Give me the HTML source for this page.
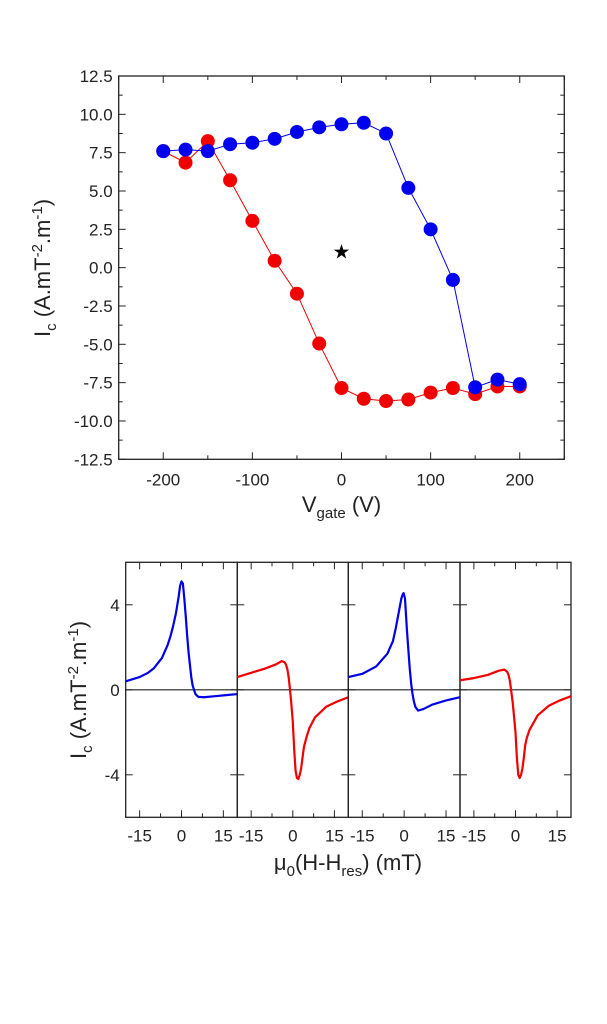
<!DOCTYPE html>
<html><head><meta charset="utf-8"><style>
html,body{margin:0;padding:0;background:#fff;}
svg{display:block;font-family:"Liberation Sans",Arial,sans-serif;}
</style></head><body>
<svg id="fig" width="607" height="1024" viewBox="0 0 607 1024" xmlns="http://www.w3.org/2000/svg">
<g id="topChart"></g>
<g id="botChart"></g>
</svg>
<script>
const NS='http://www.w3.org/2000/svg';
const vgate=[-200,-175,-150,-125,-100,-75,-50,-25,0,25,50,75,100,125,150,175,200];
const blueIc=[7.6,7.7,7.6,8.05,8.15,8.4,8.85,9.15,9.35,9.45,8.75,5.2,2.5,-0.8,-7.8,-7.3,-7.6];
const redIc=[7.6,6.85,8.25,5.7,3.05,0.45,-1.7,-4.95,-7.85,-8.55,-8.7,-8.6,-8.15,-7.85,-8.25,-7.75,-7.75];
const starPoint=[0,1.05];
const topXTicks=[-200,-100,0,100,200];
const topYTicks=[-12.5,-10,-7.5,-5,-2.5,0,2.5,5,7.5,10,12.5];

const p1x=[-20,-15,-12,-10,-7,-5,-4,-3,-2,-1,-0.5,0,0.5,1,1.5,2,2.5,3,3.5,4,4.5,5,6,8,12,16,20];
const p1y=[0.4,0.6,0.8,1.0,1.5,2.1,2.5,3.0,3.6,4.4,4.9,5.1,5.0,4.3,3.5,2.6,1.8,1.2,0.6,0.2,0.0,-0.2,-0.33,-0.35,-0.3,-0.25,-0.2];
const p2x=[-20,-15,-10,-6,-4,-3,-2.5,-2,-1.5,-1,-0.5,0,0.5,1,1.5,2,2.5,3,3.5,4,5,6,8,12,16,20];
const p2y=[0.6,0.8,1.0,1.2,1.35,1.3,1.2,1.0,0.6,0,-0.7,-1.5,-2.8,-3.8,-4.15,-4.2,-4.0,-3.7,-3.2,-2.7,-2.2,-1.8,-1.3,-0.8,-0.55,-0.35];
const p3x=[-20,-15,-10,-6,-4,-3,-2,-1,-0.5,-0.2,0.3,1,1.5,2,2.5,3,3.5,4,5,7,10,15,20];
const p3y=[0.6,0.75,1.1,1.7,2.3,2.9,3.6,4.3,4.5,4.55,4.3,2.8,1.9,1.0,0.3,-0.2,-0.55,-0.8,-0.98,-0.9,-0.7,-0.5,-0.35];
const p4x=[-20,-15,-10,-6,-4,-3,-2.5,-2,-1.5,-1,-0.5,0,0.5,1,1.5,2,2.5,3,3.5,4,5,8,12,16,20];
const p4y=[0.45,0.55,0.7,0.9,0.95,0.85,0.7,0.4,-0.1,-0.6,-1.3,-2.0,-3.2,-4.0,-4.15,-4.0,-3.7,-3.2,-2.6,-2.3,-1.9,-1.2,-0.75,-0.5,-0.3];
const botXTicks=[-15,0,15];
const botYTicks=[-4,0,4];

function mk(tag,attrs,parent,text){const e=document.createElementNS(NS,tag);for(const k in attrs)e.setAttribute(k,attrs[k]);if(text!==undefined)e.textContent=text;parent.appendChild(e);return e;}

// top chart
const topG=document.getElementById('topChart');
const L=118.7,R=564.3,T=76,B=459.3;
const sx=v=>L+(v+250)/500*(R-L);
const sy=v=>B-(v+12.5)/25*(B-T);
let f=mk('rect',{x:L,y:T,width:R-L,height:B-T,fill:'none',stroke:'#222','stroke-width':1.3},topG);


for(let v=-250;v<=250;v+=50){const major=topXTicks.includes(v);const len=major?7:4;
 mk('line',{x1:sx(v),x2:sx(v),y1:B,y2:B-len,stroke:'#222'},topG);mk('line',{x1:sx(v),x2:sx(v),y1:T,y2:T+len,stroke:'#222'},topG);}
topXTicks.forEach(v=>{const t=mk('text',{x:sx(v),y:B+26,'text-anchor':'middle','font-size':17,fill:'#222'},topG,String(v));
 
 });
for(let i=0;i<=20;i++){const v=-12.5+i*1.25;const major=i%2===0;const len=major?7:4;
 mk('line',{x1:L,x2:L+len,y1:sy(v),y2:sy(v),stroke:'#222'},topG);mk('line',{x1:R,x2:R-len,y1:sy(v),y2:sy(v),stroke:'#222'},topG);}
topYTicks.forEach(v=>{const t=mk('text',{x:L-6,y:sy(v)+6,'text-anchor':'end','font-size':17,fill:'#222'},topG,v.toFixed(1));
 
 });
function series(ys,color,name){
 const pts=vgate.map((x,i)=>sx(x)+','+sy(ys[i])).join(' ');
 const pl=mk('polyline',{points:pts,fill:'none',stroke:color,'stroke-width':1},topG);
 
 
 vgate.forEach((x,i)=>{const c=mk('circle',{cx:sx(x),cy:sy(ys[i]),r:7,fill:color},topG);
  
  });
}
series(redIc,'#f00000','red-series');
series(blueIc,'#0000f0','blue-series');
const st=mk('text',{x:sx(starPoint[0]),y:sy(starPoint[1])+7,'text-anchor':'middle','font-size':20,fill:'#000'},topG,'★');


let xl=mk('text',{x:(L+R)/2,y:512,'text-anchor':'middle','font-size':22,fill:'#222'},topG);


xl.innerHTML='V<tspan font-size="15" dy="6">gate</tspan><tspan dy="-6"> (V)</tspan>';
let yl=mk('text',{x:0,y:0,'text-anchor':'middle','font-size':22,fill:'#222',transform:'translate(50,268) rotate(-90)'},topG);


yl.innerHTML='I<tspan font-size="15" dy="6">c</tspan><tspan dy="-6"> (A.mT</tspan><tspan font-size="15" dy="-8">-2</tspan><tspan dy="8">.m</tspan><tspan font-size="15" dy="-8">-1</tspan><tspan dy="8">)</tspan>';

// bottom chart
const botG=document.getElementById('botChart');
const BT=562.3,BB=817.3,edges=[125.7,237.3,348.3,460,571];
const by=v=>BB-(v+6)/12*(BB-BT);
const panels=[[p1x,p1y,'#0000e6'],[p2x,p2y,'#f00000'],[p3x,p3y,'#0000e6'],[p4x,p4y,'#f00000']];
panels.forEach((p,k)=>{
 const l=edges[k],r=edges[k+1];const bx=v=>l+(v+20)/40*(r-l);
 const g=mk('g',{},botG);
 
 
 mk('rect',{x:l,y:BT,width:r-l,height:BB-BT,fill:'none',stroke:'#222','stroke-width':1.3},g);
 mk('line',{x1:l,x2:r,y1:by(0),y2:by(0),stroke:'#222','stroke-width':1.2},g);
 for(let v=-15;v<=15;v+=7.5){const len=botXTicks.includes(v)?7:4;
  mk('line',{x1:bx(v),x2:bx(v),y1:BB,y2:BB-len,stroke:'#222'},g);mk('line',{x1:bx(v),x2:bx(v),y1:BT,y2:BT+len,stroke:'#222'},g);}
 botYTicks.forEach(v=>{mk('line',{x1:l,x2:l+7,y1:by(v),y2:by(v),stroke:'#222'},g);mk('line',{x1:r,x2:r-7,y1:by(v),y2:by(v),stroke:'#222'},g);});
 botXTicks.forEach(v=>{const t=mk('text',{x:bx(v),y:BB+24,'text-anchor':'middle','font-size':17,fill:'#222'},g,String(v));
  
  });
 const pts=p[0].map((x,i)=>bx(x)+','+by(p[1][i])).join(' ');
 const pl=mk('polyline',{points:pts,fill:'none',stroke:p[2],'stroke-width':2.2,'stroke-linejoin':'round'},g);
 
 
});
botYTicks.forEach(v=>{const t=mk('text',{x:edges[0]-6,y:by(v)+6,'text-anchor':'end','font-size':17,fill:'#222'},botG,String(v));
 
 });
let bxl=mk('text',{x:348,y:870,'text-anchor':'middle','font-size':22,fill:'#222'},botG);


bxl.innerHTML='μ<tspan font-size="15" dy="6">0</tspan><tspan dy="-6">(H-H</tspan><tspan font-size="15" dy="6">res</tspan><tspan dy="-6">) (mT)</tspan>';
let byl=mk('text',{x:0,y:0,'text-anchor':'middle','font-size':22,fill:'#222',transform:'translate(86,690) rotate(-90)'},botG);


byl.innerHTML='I<tspan font-size="15" dy="6">c</tspan><tspan dy="-6"> (A.mT</tspan><tspan font-size="15" dy="-8">-2</tspan><tspan dy="8">.m</tspan><tspan font-size="15" dy="-8">-1</tspan><tspan dy="8">)</tspan>';
</script>
</body></html>
